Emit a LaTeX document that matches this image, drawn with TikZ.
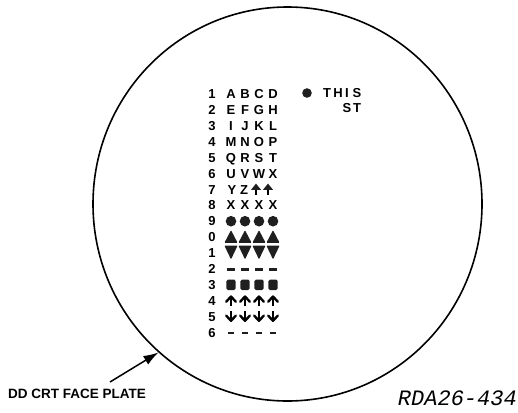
\documentclass[tikz,border=0pt]{standalone}
\usepackage{fontspec}
\setmainfont{Liberation Sans}
\newfontfamily\monofont{Liberation Mono}
\usetikzlibrary{shapes.geometric,arrows.meta}
\begin{document}
\begin{tikzpicture}[x=1pt,y=-1pt,
  glyph/.style={font=\fontsize{13}{14}\selectfont\bfseries, inner sep=0pt,
    text height=9.3pt, text depth=0pt, anchor=center},
  ink/.style={fill=black!88, draw=none},
  plate/.style={ellipse, draw, line width=1.6pt, minimum width=389pt,
    minimum height=394pt, inner sep=0pt},
  uparr/.pic={\draw[line width=2.4pt] (0,5.5) -- (0,-3);
              \fill[black!88] (-5,0.4) -- (0,-5.8) -- (5,0.4) -- cycle;},
  upchev/.pic={\draw[line width=2.4pt] (0,5.5) -- (0,-3.5);
               \draw[line width=2.4pt, line join=round, line cap=round] (-4.8,1) -- (0,-4.2) -- (4.8,1);},
  downchev/.pic={\draw[line width=2.4pt] (0,-5.5) -- (0,3.5);
                 \draw[line width=2.4pt, line join=round, line cap=round] (-4.8,-1) -- (0,4.2) -- (4.8,-1);}
]
\useasboundingbox (0,0) rectangle (518,412);

% face plate
\node[plate] (plate) at (287.5,204) {};

% row numbers
\foreach \t [count=\r] in {1,2,3,4,5,6,7,8,9,0,1,2,3,4,5,6}
  \node[glyph] (d\r) at (212,{94+(\r-1)*15.9}) {\t};

% letter rows
\foreach \row/\list in {1/{A,B,C,D},2/{E,F,G,H},3/{I,J,K,L},4/{M,N,O,P},
                        5/{Q,R,S,T},6/{U,V,W,X},8/{X,X,X,X}}
  \foreach \ch [count=\c] in \list
    \node[glyph] (r\row c\c) at ({217+14*\c},{94+(\row-1)*15.9}) {\ch};

% row 7
\node[glyph] (r7c1) at (232,189.4) {Y};
\node[glyph] (r7c2) at (244,189.4) {Z};
\pic at (256,189.4) {uparr};
\pic at (268,189.4) {uparr};

% symbol rows
\foreach \c in {1,2,3,4}{
  \pgfmathsetmacro{\xx}{217+14*\c}
  % row 9: circles
  \fill[black!88] (\xx,221.2) circle (5.3pt);
  % row 0: up triangles
  \fill[black!88, rounded corners=0.8pt] (\xx-6.6,242.8) -- (\xx,230.2) -- (\xx+6.6,242.8) -- cycle;
  % row 1: down triangles
  \fill[black!88, rounded corners=0.8pt] (\xx-6.6,245.6) -- (\xx+6.6,245.6) -- (\xx,259.4) -- cycle;
  % row 2: dashes
  \fill[black!88] (\xx-3.6,268) rectangle (\xx+3.6,270.6);
  % row 3: squares
  \fill[black!88, rounded corners=1.5pt] (\xx-4.6,279.6) rectangle (\xx+4.6,290);
  % row 4: up arrows
  \pic at (\xx,300.7) {upchev};
  % row 5: down arrows
  \pic at (\xx,316.6) {downchev};
  % row 6: dashes
  \fill[black!88] (\xx-3.2,332) rectangle (\xx+3.2,334.4);
}

% THIS / ST
\fill[black!88] (307,93) circle (4.8pt);
\node[glyph] (t1) at (327,93) {T};
\node[glyph] (t2) at (338,93) {H};
\node[glyph] (t3) at (347,93) {I};
\node[glyph] (t4) at (357,93) {S};
\node[glyph] (s1) at (347,108) {S};
\node[glyph] (s2) at (357,108) {T};

% label and arrow
\node[font=\fontsize{13.5}{14}\selectfont\bfseries, inner sep=0pt, anchor=base west]
  (lbl) at (8,398) {DD CRT FACE PLATE};
\coordinate (tail) at (110,382);
\draw[line width=1.5pt, -{Latex[length=15pt,width=10pt]}] (tail) -- (plate.229);

\node[font=\monofont\itshape\fontsize{22}{24}\selectfont, inner sep=0pt, anchor=base east]
  (code) at (517,405) {RDA26-434};
\end{tikzpicture}
\end{document}
